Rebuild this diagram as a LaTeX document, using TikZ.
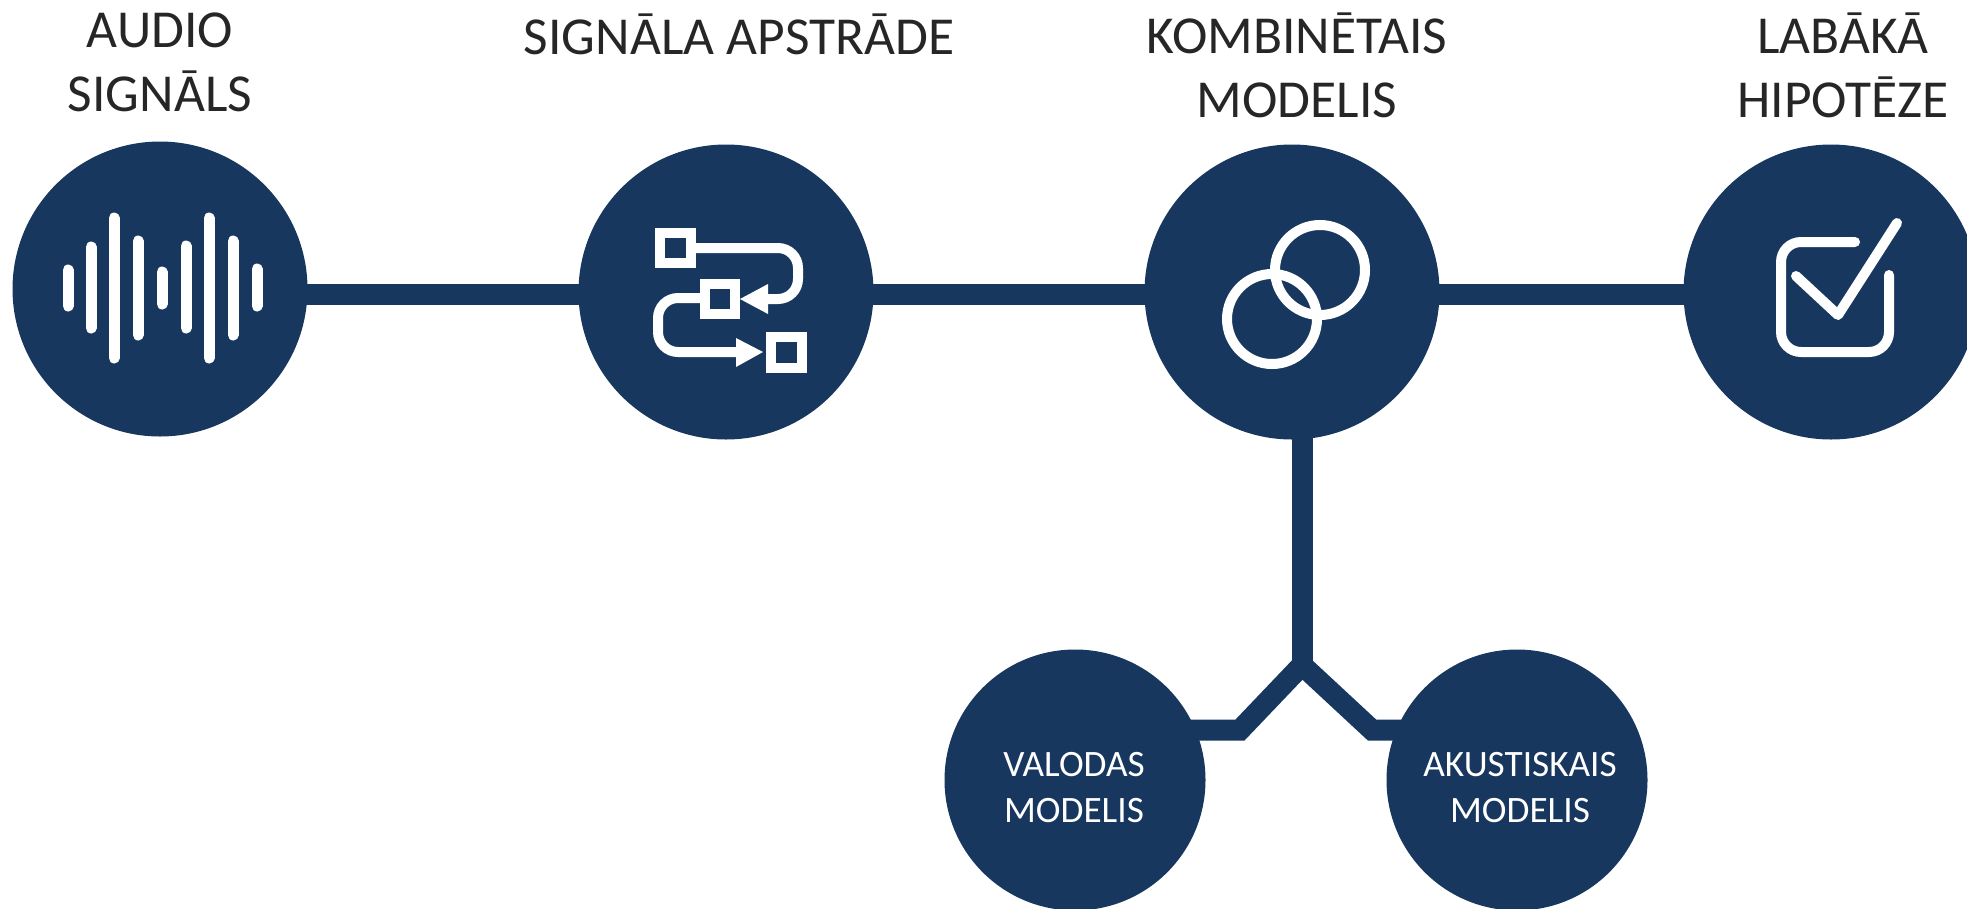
\documentclass[tikz,border=0pt]{standalone}
\usepackage{fontspec}
\setmainfont{Carlito}
\usetikzlibrary{positioning}
\definecolor{navynavy}{rgb}{0.09, 0.216, 0.369}
\definecolor{darktext}{rgb}{0.15, 0.15, 0.15}

\begin{document}
\begin{tikzpicture}[x=.1mm,y=-.1mm,
	bubble/.style={fill=navynavy,circle,inner sep=0pt,minimum size=29.5mm},
	small/.style={fill=navynavy,circle,inner sep=0pt,minimum size=26.1mm},
	smalltext/.style={text=white,align=center,inner sep=0pt,font=\fontsize{10.6pt}{13.1pt}\selectfont},
	title/.style={text=darktext,align=center,inner sep=0pt,font=\fontsize{15.2pt}{18.2pt}\selectfont},
	link/.style={navynavy,line width=2.1mm,miter limit=10},
	glyph/.style={white,line width=1mm,line cap=round,line join=round}]
\useasboundingbox (0,0) rectangle (1967,908);
%================================================================
%	Circles
\node[bubble] (audio) at (160,289) {};
\node[bubble] (apstrade) at (726,292) {};
\node[bubble] (kombi) at (1292,292) {};
\node[bubble] (hipoteze) at (1831,292) {};
\node[small] (valodas) at (1075,780) {};
\node[small] (akustiskais) at (1517,780) {};
%----------------------------------------------------------------
\node[title] (audiotitle) at (160,62) {AUDIO\\SIGNĀLS};
\node[title] (apstradetitle) at (739,34) {SIGNĀLA APSTRĀDE};
\node[title] (kombititle) at (1297,65) {KOMBINĒTAIS\\MODELIS};
\node[title] (hipotezetitle) at (1843,65) {LABĀKĀ\\HIPOTĒZE};
%----------------------------------------------------------------
\node[smalltext] (valodastext) at (1074,788) {VALODAS\\MODELIS};
\node[smalltext] (akustiskaistext) at (1520,788) {AKUSTISKAIS\\MODELIS};

%================================================================
%	Lines
\coordinate (axis) at (0,294);
\coordinate (fork) at (1302,665);
\coordinate (leftbend) at (1240,730);
\coordinate (rightbend) at (1372,730);
%----------------------------------------------------------------
\draw[link] (audio |- axis) -- (apstrade |- axis);
\draw[link] (apstrade |- axis) -- (kombi |- axis);
\draw[link] (kombi |- axis) -- (hipoteze |- axis);
\draw[link] (fork |- kombi) -- (fork);
\draw[link] (valodas |- leftbend) -- (leftbend) -- (fork) -- (rightbend) -- (akustiskais |- rightbend);

%================================================================
%	Audio icon
\foreach \x/\a/\b in {68/270/306,91/247/328,114/218/358,138/241/335,162/272/304,186/246/328,209/218/358,233/241/335,257/269/306}
	\draw[glyph,line width=1.1mm] (\x,\a) -- (\x,\b);

%================================================================
%	Flow icon
\draw[glyph,line cap=butt,line join=miter] (660,233) rectangle (691,263);
\draw[glyph,line cap=butt,line join=miter] (704.5,283.5) rectangle (734.5,313.5);
\draw[glyph,line cap=butt,line join=miter] (770.5,336.5) rectangle (801.5,367.5);
%----------------------------------------------------------------
\draw[glyph,line cap=butt,rounded corners=2mm] (696,248) -- (798,248) -- (798,299) -- (766,299);
\draw[glyph,line cap=butt,rounded corners=2mm] (700,298) -- (658,298) -- (658,352) -- (738,352);
\fill[white] (740,299) -- (768,284) -- (768,314) -- cycle;
\fill[white] (763,352) -- (736,338) -- (736,367) -- cycle;

%================================================================
%	Rings icon
\draw[glyph] (1320,270) circle (4.5mm);
\draw[glyph] (1272,319) circle (4.5mm);

%================================================================
%	Check icon
\draw[glyph,rounded corners=2mm] (1855,242) -- (1781,242) -- (1781,352) -- (1889,352) -- (1889,275);
\draw[glyph] (1796,276) -- (1838,315) -- (1897,223);
%================================================================
\end{tikzpicture}
\end{document}
